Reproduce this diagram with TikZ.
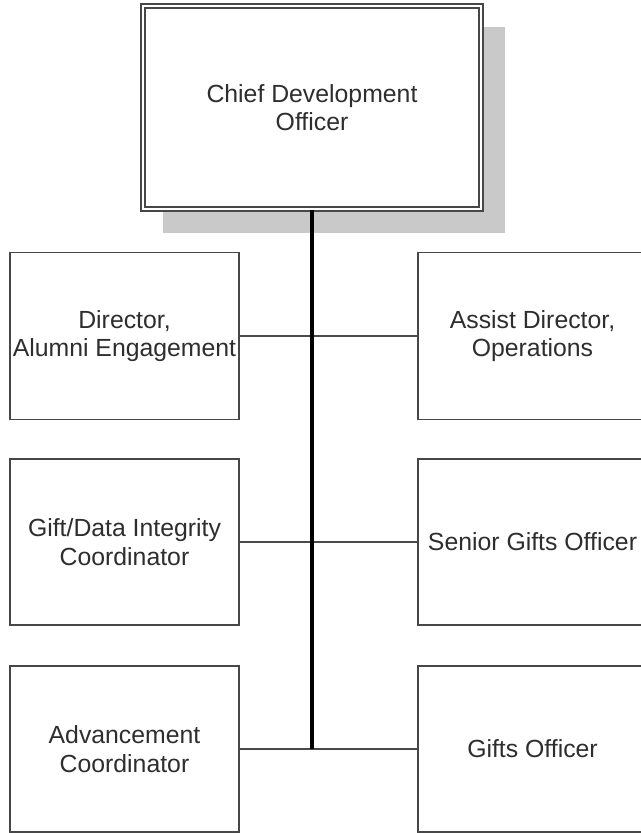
\documentclass[tikz,border=0pt]{standalone}
\usepackage{fontspec}
\setmainfont{Liberation Sans}
\usetikzlibrary{positioning}
\definecolor{boxline}{HTML}{474747}
\definecolor{txt}{HTML}{2E2E2E}
\definecolor{shadowgray}{HTML}{C9C9C9}
\definecolor{linkgray}{HTML}{4A4A4A}
\begin{document}
\begin{tikzpicture}[x=0.75pt,y=-0.75pt,
  orgbox/.style={draw=boxline, line width=1.2pt, fill=white, text=txt,
    font=\fontsize{18.6}{21.5}\selectfont, align=center, inner sep=0pt,
    minimum width={229*0.75pt}, minimum height={166*0.75pt}},
  topbox/.style={orgbox, line width=0.9pt, double=white, double distance=2.1pt,
    minimum width={338*0.75pt}, minimum height={203*0.75pt}},
  trunk/.style={black, line width=2.3pt},
  branch/.style={linkgray, line width=1.2pt}]
\useasboundingbox (0,0) rectangle (641,833);
\clip (0,0) rectangle (641,833);
% shadow of top box
\fill[shadowgray] (163,27) rectangle (505,233);
% top box
\node[topbox] (ceo) at (312,107.5) {Chief Development\\Officer};
% left column
\node[orgbox, minimum height={167*0.75pt}] (dir) at (124.5,336) {Director,\\Alumni Engagement};
\node[orgbox] (gift) at (124.5,542) {Gift/Data Integrity\\Coordinator};
\node[orgbox] (adv) at (124.5,749) {Advancement\\Coordinator};
% right column
\node[orgbox, minimum height={167*0.75pt}] (ops) at (532.5,336) {Assist Director,\\Operations};
\node[orgbox] (sgo) at (532.5,542) {Senior Gifts Officer};
\node[orgbox] (go) at (532.5,749) {Gifts Officer};
% connectors
\coordinate (end) at (312,749);
\draw[branch] (dir.east) -- (ops.west);
\draw[branch] (gift.east) -- (sgo.west);
\draw[branch] (adv.east) -- (go.west);
\draw[trunk] ([yshift=-0.6pt]ceo.south) -- (end);
\end{tikzpicture}
\end{document}
